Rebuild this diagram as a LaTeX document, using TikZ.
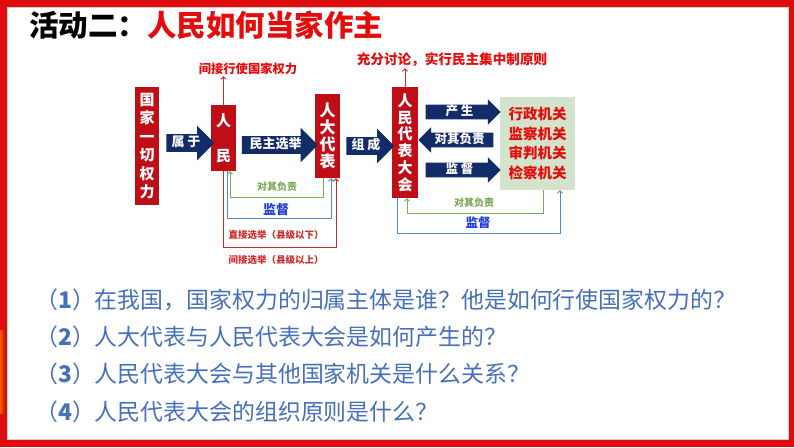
\documentclass[tikz,border=0pt]{standalone}
\usepackage{fontspec}
\setmainfont{Noto Sans CJK SC}
\usetikzlibrary{shapes.arrows,calc,arrows.meta}
\definecolor{boxred}{RGB}{192,14,22}
\definecolor{navy}{RGB}{18,44,104}
\definecolor{gbox}{RGB}{212,228,204}
\definecolor{txtred}{RGB}{228,12,12}
\definecolor{lgreen}{RGB}{125,170,85}
\definecolor{lblue}{RGB}{80,140,205}
\definecolor{tblue}{RGB}{35,60,215}
\definecolor{lred}{RGB}{205,45,45}
\definecolor{qblue}{RGB}{70,112,185}
\definecolor{framered}{RGB}{222,12,12}
\newcommand{\fs}[2]{\fontsize{#1}{#2}\selectfont}
\tikzset{
  vbox/.style={fill=boxred, text=white, font=\bfseries\fs{15}{18.5}, align=center, inner sep=0pt},
  barrow/.style={single arrow, fill=navy, text=white, font=\bfseries\fs{13}{13}, inner xsep=0pt, inner ysep=2.5pt, text height=9.5pt, text depth=3pt, single arrow head extend=8.5pt},
  sarrow/.style={single arrow, fill=navy, text=white, font=\bfseries\fs{12.5}{13}, inner xsep=0pt, inner ysep=1.5pt, text height=9pt, text depth=2.5pt, single arrow head extend=5.5pt},
  thin/.style={line width=0.9pt, -{Straight Barb[length=2.5pt,width=5pt]}},
  gline/.style={thin, draw=lgreen},
  bline/.style={thin, draw=lblue},
  rline/.style={thin, draw=lred},
  smalllab/.style={font=\bfseries\fs{10}{12}, inner sep=1pt},
  qtext/.style={anchor=west, text=qblue, font=\fs{22.9}{26}, inner sep=0pt}
}
\begin{document}
\begin{tikzpicture}[x=1pt,y=-1pt]
\useasboundingbox (0,0) rectangle (794,447);
% frame
\fill[framered] (0,0) rectangle (794,447);
\shade[left color=orange!70!red, right color=framered!80!black] (0,330) rectangle (6,413);
\fill[white] (7,7) rectangle (789,440);
\draw[black!20, line width=0.8pt] (7.4,7.4) rectangle (788.6,439.6);
% title
\node[anchor=west, inner sep=0pt, font=\bfseries\fs{29.5}{32}] (title) at (29,25) {活动二：\textcolor{txtred}{人民如何当家作主}};
% boxes
\node[vbox, minimum width=24, minimum height=118] (gj) at (147,146) {国\\家\\一\\切\\权\\力};
\node[vbox, minimum width=25, minimum height=66, font=\bfseries\fs{15}{35}] (rm) at (223.5,138) {人\\民};
\node[vbox, minimum width=25, minimum height=84, font=\bfseries\fs{16}{16.8}] (rd) at (327.5,136) {人\\大\\代\\表};
\node[vbox, minimum width=26, minimum height=111, font=\bfseries\fs{15}{16.8}] (rh) at (405,142.5) {人\\民\\代\\表\\大\\会};
\node[fill=gbox, text=txtred, font=\bfseries\fs{14.5}{19.5}, align=center, minimum width=75, minimum height=93, inner sep=0pt] (gb) at (537.5,143.5) {行政机关\\监察机关\\审判机关\\检察机关};
% block arrows
\node[barrow, minimum height=48] (a1) at (186,143) {属 于};
\node[barrow, minimum height=76] (a2) at (275.5,145) {民主选举};
\node[barrow, minimum height=48] (a3) at (366,146) {组 成};
\node[sarrow, minimum height=75] (a4) at (459.5,112) {产 生};
\node[sarrow, minimum height=75, shape border rotate=180] (a5) at (459.5,140) {对其负责};
\node[sarrow, minimum height=75] (a6) at (459.5,170) {监 督};
% top labels
\node[text=txtred, font=\bfseries\fs{12.3}{14}, inner sep=1pt] (lt1) at (248,69) {间接行使国家权力};
\node[text=txtred, font=\bfseries\fs{13.6}{15}, inner sep=1pt] (lt2) at (452,60) {充分讨论，实行民主集中制原则};
\draw[rline] (rm.north) -- (rm.north |- lt1.south);
\draw[rline] (rh.north) -- (rh.north |- lt2.south);
% left loops
\draw[gline] ($(rd.south)+(-4.5,0)$) -- ++(0,19) -| ($(rm.south)+(6.5,0)$);
\draw[bline] ($(rm.south)+(3.5,0)$) -- ++(0,47) -| ($(rd.south)+(3.5,0)$);
\draw[rline] (rm.south) -- ++(0,76) -| ($(rd.south)+(8.5,0)$);
\node[smalllab, text=lgreen] (l1) at (277,187) {对其负责};
\node[smalllab, text=tblue, font=\bfseries\fs{13}{14}] (l2) at (276,210) {监督};
\node[smalllab, text=lred, font=\bfseries\fs{9.5}{11}] (l3) at (276,235) {直接选举（县级以下）};
\node[smalllab, text=lred, font=\bfseries\fs{9.5}{11}] (l4) at (276,260) {间接选举（县级以上）};
% right loops
\draw[gline] ($(gb.south)+(5.5,0)$) -- ++(0,23) -| ($(rh.south)+(2,0)$);
\draw[bline] ($(rh.south)+(-8,0)$) -- ++(0,35) -| ($(gb.south)+(22.5,0)$);
\node[smalllab, text=lgreen] (r1) at (474,203) {对其负责};
\node[smalllab, text=tblue, font=\bfseries\fs{12.5}{14}] (r2) at (478,223) {监督};
% questions
\node[qtext] (q1) at (35,300) {（\textbf{1}）在我国，国家权力的归属主体是谁？他是如何行使国家权力的？};
\node[qtext] (q2) at (35,337) {（\textbf{2}）人大代表与人民代表大会是如何产生的？};
\node[qtext] (q3) at (35,374) {（\textbf{3}）人民代表大会与其他国家机关是什么关系？};
\node[qtext] (q4) at (35,412) {（\textbf{4}）人民代表大会的组织原则是什么？};
\end{tikzpicture}
\end{document}
